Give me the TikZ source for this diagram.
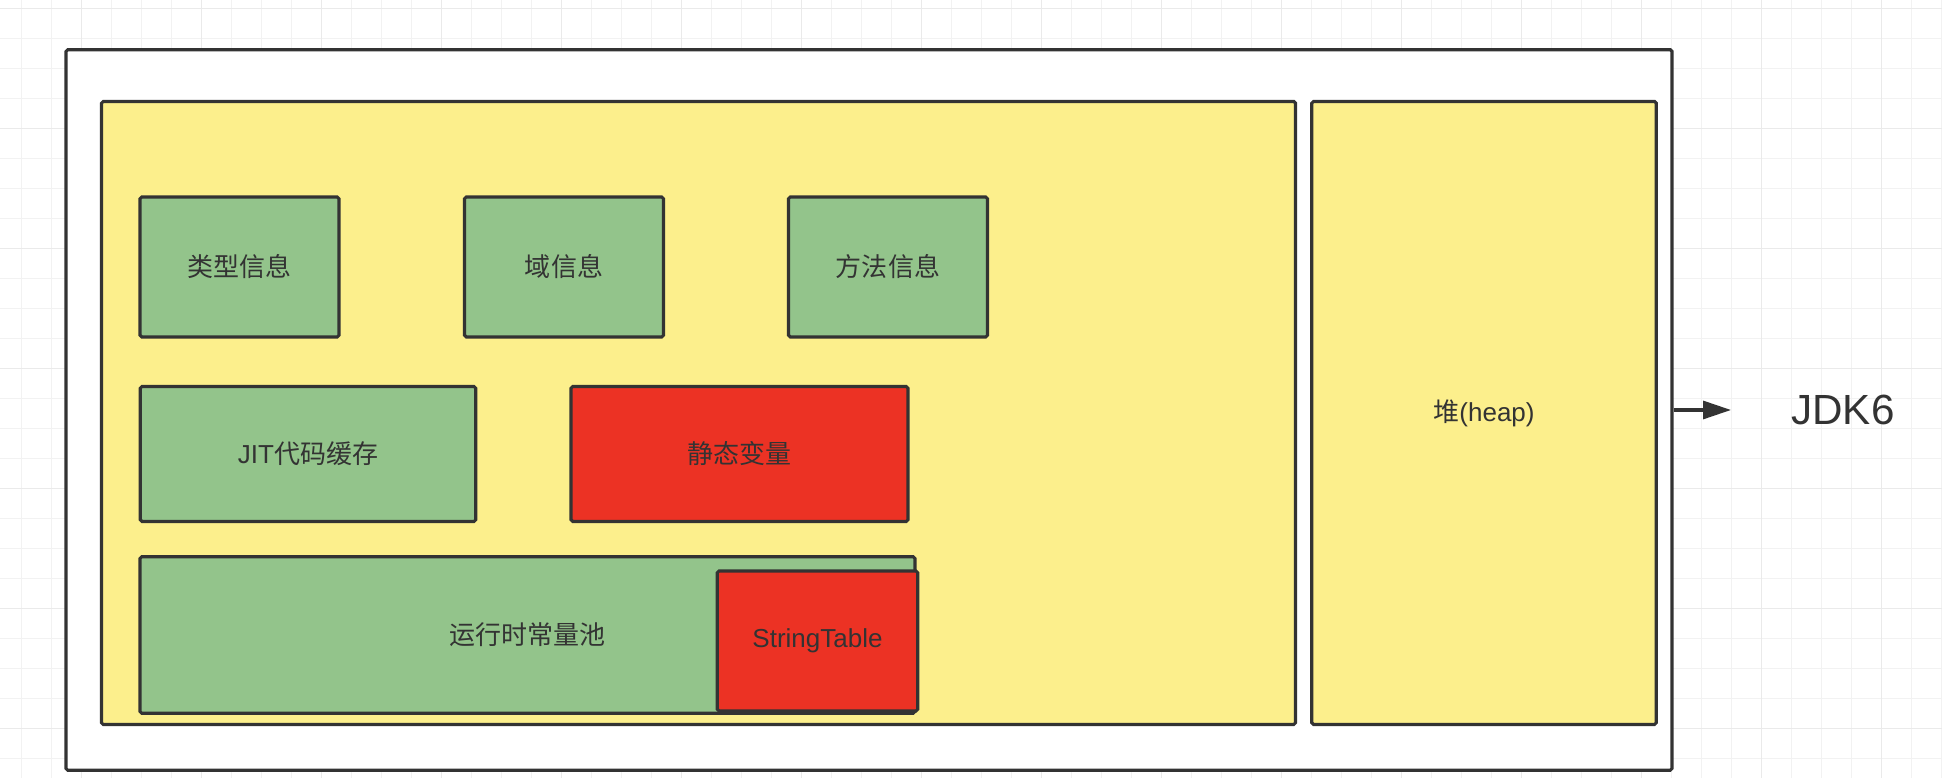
\documentclass[tikz,border=0pt]{standalone}
\usepackage{fontspec}
\setmainfont{Liberation Sans}
\newfontfamily\cjk{Noto Sans CJK SC}
\usetikzlibrary{arrows.meta}

\definecolor{ink}{HTML}{333333}
\definecolor{areayellow}{HTML}{FCEF8C}
\definecolor{partgreen}{HTML}{93C48B}
\definecolor{partred}{HTML}{EC3224}
\definecolor{gridminor}{HTML}{F2F2F2}
\definecolor{gridmajor}{HTML}{EAEAEA}

\begin{document}
\begin{tikzpicture}[>={Triangle[length=0.56cm,width=0.36cm]},
  box/.style={draw=ink,line width=1.8pt,rounded corners=1pt,text=ink,
    font=\cjk\fontsize{14.8}{18}\selectfont},
  greenbox/.style={box,fill=partgreen,minimum width=3.98cm,minimum height=2.8cm},
  redbox/.style={box,fill=partred},
  area/.style={box,fill=areayellow,minimum height=12.46cm}]
\useasboundingbox (0,0) rectangle (38.84,15.56);
\fill[white] (0,0) rectangle (38.84,15.56);
\begin{scope}
\clip (0,0) rectangle (38.84,15.56);
\draw[gridminor,line width=0.8pt,step=0.6,shift={(0.434,0.39)}] (-1,-1) grid (39,16);
\draw[gridmajor,line width=0.8pt,step=2.4,shift={(1.634,0.99)}] (-3,-3) grid (39,16);
\end{scope}

\node[box,fill=white,minimum width=32.12cm,minimum height=14.41cm] (jvm) at (17.38,7.36) {};
\node[area,minimum width=23.88cm] (method) at (13.97,7.30) {};
\node[area,minimum width=6.89cm] (heap) at (29.68,7.30) {堆{\rmfamily(heap)}};

\node[greenbox] (type)   at (4.79,10.22)  {类型信息};
\node[greenbox] (field)  at (11.28,10.22) {域信息};
\node[greenbox] (func)   at (17.76,10.22) {方法信息};

\node[greenbox,minimum width=6.71cm,minimum height=2.7cm] (jit) at (6.16,6.48) {{\rmfamily JIT}代码缓存};
\node[redbox,minimum width=6.74cm,minimum height=2.7cm] (static) at (14.79,6.48) {静态变量};

\node[box,fill=partgreen,minimum width=15.5cm,minimum height=3.13cm] (pool) at (10.55,2.86) {运行时常量池};
\node[redbox,minimum width=4.01cm,minimum height=2.8cm] (strtab) at (16.35,2.74) {{\rmfamily StringTable}};

\node[text=ink,font=\fontsize{24}{28}\selectfont] (jdk) at (36.86,7.36) {JDK6};
\coordinate (tip) at (34.62,7.36);

\draw[->,ink,line width=1.8pt] (jvm.east |- jdk) -- (tip);
\end{tikzpicture}
\end{document}
